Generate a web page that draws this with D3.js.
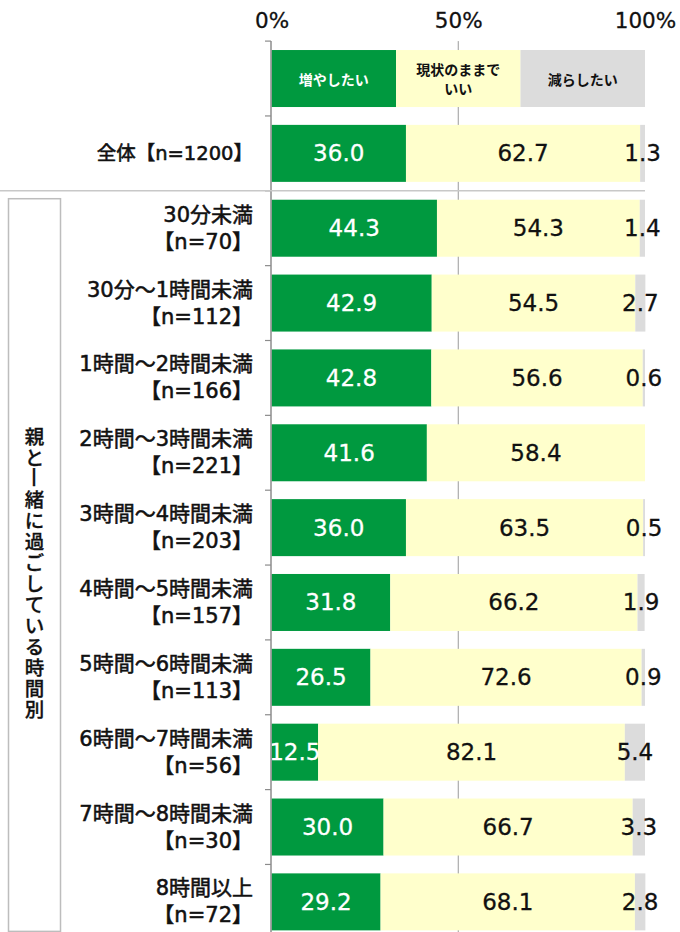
<!DOCTYPE html>
<html><head><meta charset="utf-8">
<script src="https://cdn.jsdelivr.net/npm/d3@7"></script>
<style>
html,body{margin:0;padding:0;background:#fff;}
svg{display:block;font-family:"DejaVu Sans","Noto Sans CJK JP",sans-serif;}
</style></head>
<body>
<svg id="chart" width="680" height="932"></svg>
<script>
// ---- data ----
const seriesNames = ["増やしたい", "現状のままでいい", "減らしたい"];
const legendLines = [["増やしたい"], ["現状のままで", "いい"], ["減らしたい"]];
const categories = [
  ["全体【n=1200】"],
  ["30分未満", "【n=70】"],
  ["30分～1時間未満", "【n=112】"],
  ["1時間～2時間未満", "【n=166】"],
  ["2時間～3時間未満", "【n=221】"],
  ["3時間～4時間未満", "【n=203】"],
  ["4時間～5時間未満", "【n=157】"],
  ["5時間～6時間未満", "【n=113】"],
  ["6時間～7時間未満", "【n=56】"],
  ["7時間～8時間未満", "【n=30】"],
  ["8時間以上", "【n=72】"]
];
const increase = [36.0, 44.3, 42.9, 42.8, 41.6, 36.0, 31.8, 26.5, 12.5, 30.0, 29.2];
const keep     = [62.7, 54.3, 54.5, 56.6, 58.4, 63.5, 66.2, 72.6, 82.1, 66.7, 68.1];
const decrease = [1.3, 1.4, 2.7, 0.6, 0.0, 0.5, 1.9, 0.9, 5.4, 3.3, 2.8];
const tickValues = [0, 50, 100];
const groupTitle = "親と一緒に過ごしている時間別";

// ---- style ----
const colors = ["#00993f", "#ffffcc", "#dcdcdc"];
const textColors = ["#ffffff", "#111111", "#111111"];
const LATIN = '"DejaVu Sans","Noto Sans CJK JP",sans-serif';
const CJK = '"Noto Sans CJK JP",sans-serif';

const svg = d3.select("#chart");
const x = d3.scaleLinear().domain([0, 100]).range([271.5, 645]);
const rowKeys = ["legend"].concat(categories.map((c, i) => "c" + i));
const pad = 0.2385;
const y = d3.scaleBand().domain(rowKeys).range([41.1, 939.3]).paddingInner(pad).paddingOuter(pad / 2);
const step = y.step();
const bw = y.bandwidth();

// 50% gridline (behind bars)
svg.append("line")
  .attr("x1", x(50)).attr("x2", x(50))
  .attr("y1", y.range()[0]).attr("y2", y.range()[1])
  .attr("stroke", "#9a9a9a").attr("stroke-width", 1);

// top tick labels
const axTop = svg.append("g").attr("transform", "translate(0,28)")
  .call(d3.axisTop(x).tickValues(tickValues).tickSize(0).tickFormat(d => d + "%"));
axTop.select(".domain").remove();
axTop.selectAll("text").attr("dy", 0).attr("y", 0)
  .style("font-size", "21.5px").style("font-family", LATIN)
  .attr("fill", "#111").attr("stroke", "#111").attr("stroke-width", 0.3);

// legend row
const third = 100 / 3;
const lg = svg.append("g");
seriesNames.forEach((s, i) => {
  const x0 = x(third * i), x1 = x(third * (i + 1));
  lg.append("rect").attr("x", x0).attr("y", y("legend")).attr("width", x1 - x0).attr("height", bw).attr("fill", colors[i]);
  const lines = legendLines[i];
  const cy = y("legend") + bw / 2;
  lines.forEach((ln, j) => {
    lg.append("text").attr("x", (x0 + x1) / 2)
      .attr("y", cy + (j - (lines.length - 1) / 2) * 18.5)
      .attr("text-anchor", "middle").attr("dominant-baseline", "central")
      .attr("font-size", 14).attr("font-weight", "bold").style("font-family", CJK)
      .attr("fill", textColors[i]).text(ln);
  });
});

// bars
const values = [increase, keep, decrease];
categories.forEach((cat, ci) => {
  const key = "c" + ci;
  let acc = 0;
  const g = svg.append("g");
  values.forEach((arr, si) => {
    const v = arr[ci];
    const x0 = x(acc), x1 = x(acc + v);
    acc += v;
    if (v <= 0) return;
    g.append("rect").attr("x", x0).attr("y", y(key)).attr("width", x1 - x0).attr("height", bw).attr("fill", colors[si]);
  });
  acc = 0;
  values.forEach((arr, si) => {
    const v = arr[ci];
    const x0 = x(acc), x1 = x(acc + v);
    acc += v;
    if (v <= 0) return;
    g.append("text").attr("x", (x0 + x1) / 2).attr("y", y(key) + bw / 2)
      .attr("text-anchor", "middle").attr("dominant-baseline", "central")
      .attr("font-size", 23).style("font-family", LATIN)
      .attr("fill", textColors[si]).attr("stroke", textColors[si]).attr("stroke-width", 0.3)
      .text(v.toFixed(1));
  });
  // category label
  const cy = y(key) + bw / 2;
  const fs = cat.length > 1 ? 21 : 19.5;
  cat.forEach((ln, j) => {
    svg.append("text").attr("x", 253)
      .attr("y", cy + (j - (cat.length - 1) / 2) * 27)
      .attr("text-anchor", "end").attr("dominant-baseline", "central")
      .attr("font-size", fs).style("font-family", LATIN)
      .attr("fill", "#111").attr("stroke", "#111").attr("stroke-width", 0.55)
      .text(ln);
  });
});

// left axis line with ticks at band boundaries
svg.append("line").attr("x1", 271).attr("x2", 271)
  .attr("y1", y.range()[0]).attr("y2", y.range()[1])
  .attr("stroke", "#8c8c8c").attr("stroke-width", 1.5);
d3.range(rowKeys.length + 1).forEach(k => {
  const yy = y.range()[0] + k * step;
  svg.append("line").attr("x1", 265).attr("x2", 271).attr("y1", yy).attr("y2", yy)
    .attr("stroke", "#8c8c8c").attr("stroke-width", 1.2);
});

// separator under 全体
const sepY = y("c1") - step * pad / 2;
svg.append("line").attr("x1", 0).attr("x2", 645).attr("y1", sepY).attr("y2", sepY)
  .attr("stroke", "#c8c8c8").attr("stroke-width", 1.5);

// group box
const boxTop = y("c1") - 1, boxBot = y("c10") + bw + 1;
svg.append("rect").attr("x", 8.5).attr("y", boxTop).attr("width", 52).attr("height", boxBot - boxTop)
  .attr("fill", "none").attr("stroke", "#bdbdbd").attr("stroke-width", 1.5);
const chars = Array.from(groupTitle);
const cpitch = 21;
const cmid = 571.5;
chars.forEach((ch, i) => {
  const cy = cmid + (i - (chars.length - 1) / 2) * cpitch;
  svg.append("text")
    .attr("transform", `translate(34.5,${cy}) rotate(${ch === "一" ? 90 : 0})`)
    .attr("text-anchor", "middle").attr("dominant-baseline", "central")
    .attr("font-size", 19.5).attr("font-weight", 500).style("font-family", CJK)
    .attr("fill", "#111").attr("stroke", "#111").attr("stroke-width", 0.3).text(ch);
});
</script>
</body></html>
